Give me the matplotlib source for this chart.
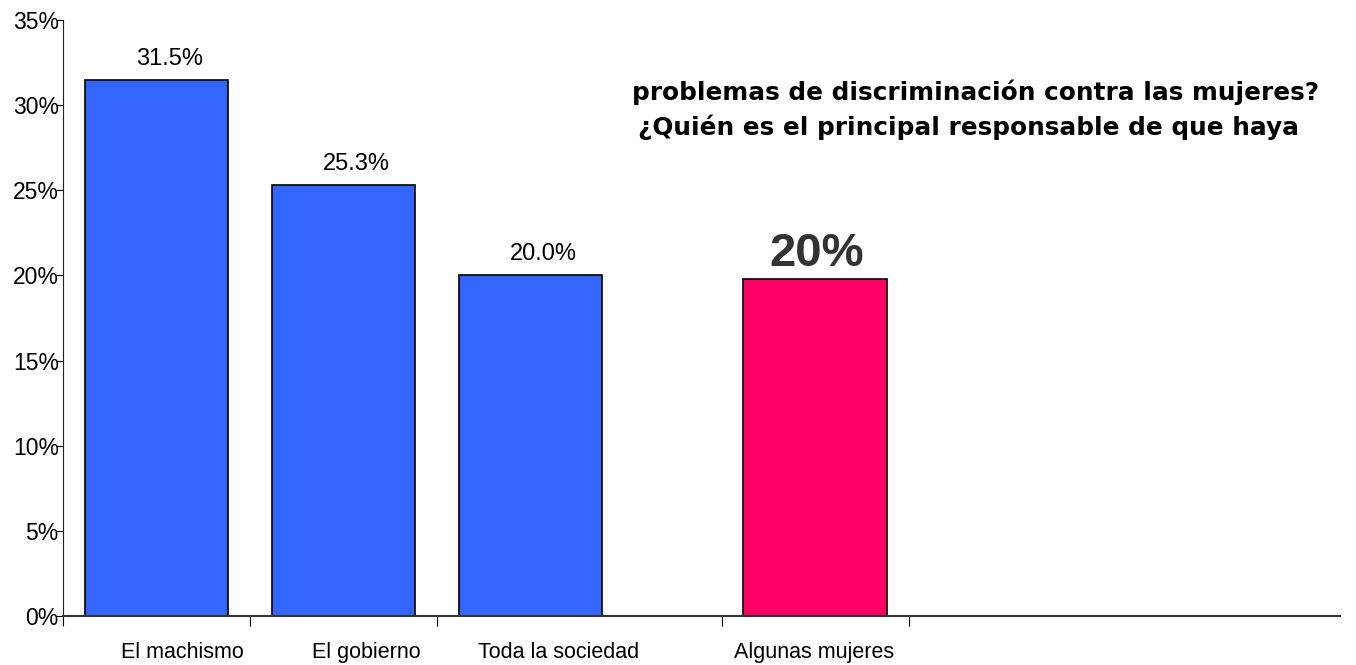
import matplotlib.pyplot as plt
from matplotlib.ticker import MultipleLocator, FuncFormatter

plt.rcParams['font.family'] = ['Liberation Sans', 'DejaVu Sans']

categories = ['El machismo', 'El gobierno', 'Toda la sociedad', 'Algunas mujeres']
values = [31.5, 25.3, 20.0, 19.8]
value_labels = ['31.5%', '25.3%', '20.0%', '20%']
title_lines = ['problemas de discriminación contra las mujeres?',
               '¿Quién es el principal responsable de que haya']

# layout in category units (1 unit = spacing between x ticks)
bar_x = [0.5, 1.5, 2.5, 4.02]
label_x = [0.636, 1.62, 2.652, 4.016]
tick_x = [0, 1, 2, 3.524, 4.524]
colors = ['#3366FF', '#3366FF', '#3366FF', '#FF0066']

fig = plt.figure(figsize=[13.56, 6.65], dpi=100)
ax = fig.add_axes([63 / 1356, 49 / 665, 1277 / 1356, 596 / 665])

ax.bar(bar_x, values, width=0.77, color=colors, edgecolor='black', linewidth=1.2, zorder=2)

ax.set_xlim(0, 1277 / 187)
ax.set_ylim(0, 35)
ax.yaxis.set_major_locator(MultipleLocator(5))
ax.yaxis.set_major_formatter(FuncFormatter(lambda v, p: '%d%%' % v))
ax.set_xticks(tick_x)
ax.set_xticklabels([])
ax.tick_params(axis='y', length=5, direction='out', pad=-2, labelsize=16.5)
ax.tick_params(axis='x', length=7, direction='out')

for s in ['top', 'right']:
    ax.spines[s].set_visible(False)
ax.spines['left'].set_color('#222222')
ax.spines['bottom'].set_color('#333333')
ax.spines['bottom'].set_linewidth(1.5)

# value labels
for i in range(3):
    ax.annotate(value_labels[i], xy=(bar_x[i], values[i]), xytext=(9.4, 10.8),
                textcoords='offset points', ha='center', va='baseline', fontsize=17)
ax.annotate(value_labels[3], xy=(bar_x[3], values[3]), xytext=(1.5, 9.4),
            textcoords='offset points', ha='center', va='baseline',
            fontsize=34, fontweight='bold', color='#333333')

# category labels
for x, c in zip(label_x, categories):
    ax.annotate(c, xy=(x, 0), xycoords=('data', 'axes fraction'), xytext=(0, -30.2),
                textcoords='offset points', ha='center', va='baseline', fontsize=15.5)

fig.text(975.5 / 1356, 565 / 665, title_lines[0], ha='center', va='baseline',
         fontsize=17.8, fontweight='bold', family=['DejaVu Sans'])
fig.text(969 / 1356, 530 / 665, title_lines[1], ha='center', va='baseline',
         fontsize=17.8, fontweight='bold', family=['DejaVu Sans'])

fig.savefig('out.png', dpi=100)
